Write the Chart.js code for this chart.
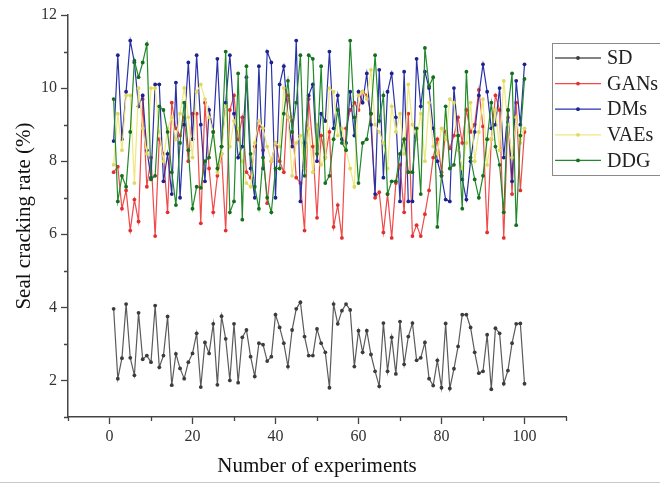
<!DOCTYPE html>
<html>
<head>
<meta charset="utf-8">
<script src="https://cdn.jsdelivr.net/npm/chart.js@4.4.1/dist/chart.umd.min.js"></script>
<style>
  html, body { margin: 0; padding: 0; background: #fff; }
  #wrap { position: relative; width: 660px; height: 484px; }
  #bottomline { position: absolute; left: 0; top: 482px; width: 660px; height: 1px; background: #c8c8c8; }
</style>
</head>
<body>
<div id="wrap">
  <canvas id="c" width="660" height="484"></canvas>
  <div id="bottomline"></div>
</div>
<script>
const experiments = Array.from({length: 100}, (_, i) => i + 1);

const seriesNames = ['SD', 'GANs', 'DMs', 'VAEs', 'DDG'];
const seriesColors = ['#5a5a5a', '#f04a4a', '#2a32a8', '#eee87e', '#218a2a'];
const pointColors = ['#3c3c3c', '#e03030', '#1c2290', '#e0d860', '#146e1c'];

const sdValues = [3.96,2.05,2.61,4.09,2.62,2.14,3.85,2.58,2.68,2.50,4.05,2.36,2.68,3.75,1.87,2.73,2.33,2.05,2.50,2.74,
  3.29,1.82,3.04,2.74,3.55,1.88,3.76,3.14,2.00,3.55,1.94,3.18,3.38,2.65,2.11,3.02,2.98,2.53,2.65,3.80,
  3.45,3.02,2.38,3.38,3.96,4.14,3.20,2.68,2.68,3.41,3.02,2.77,1.80,4.09,3.55,3.91,4.09,3.93,2.38,3.36,
  2.77,3.36,2.71,2.25,1.84,3.57,2.25,3.18,2.18,3.61,2.44,3.20,3.57,2.55,2.62,3.04,2.05,1.86,2.55,1.80,
  3.56,1.78,2.32,2.93,3.80,3.80,3.45,2.77,2.20,2.25,3.25,1.76,3.43,3.29,1.91,2.27,3.02,3.55,3.56,1.91];

const gansValues = [7.7,7.85,6.7,7.2,6.1,6.95,6.35,9.7,7.3,8.1,5.95,8.6,8.2,6.6,9.6,8.9,8.7,9.2,8.0,9.3,
  9.3,6.3,9.6,7.8,6.6,7.6,8.2,6.1,9.4,9.8,8.6,9.2,7.7,7.55,8.4,8.95,8.3,6.85,8.0,8.5,
  8.0,7.7,9.8,9.1,7.55,7.4,6.1,9.7,8.4,6.45,8.7,8.1,8.8,6.2,6.8,5.9,8.9,9.4,9.6,9.4,
  9.9,9.8,9.3,7.0,7.15,6.05,7.1,5.9,7.4,7.9,6.6,9.3,5.95,6.25,5.95,6.55,7.2,8.1,8.6,7.7,
  8.8,8.35,8.7,9.2,8.5,9.4,8.8,9.0,9.95,8.95,6.05,8.6,9.8,9.4,5.9,9.2,7.1,9.6,7.2,8.8];

const dmsValues = [8.55,10.9,8.6,9.9,11.3,10.7,9.5,9.8,8.3,7.55,10.1,10.1,7.45,8.2,7.1,10.15,7.0,9.0,10.7,8.6,
  10.9,9.0,7.45,9.4,8.8,10.8,8.4,9.6,10.9,9.3,8.1,8.4,10.3,7.8,7.0,10.6,7.8,11.0,10.7,7.0,
  10.1,10.6,9.2,8.4,11.3,6.9,8.5,9.8,10.1,8.0,9.3,9.1,11.0,8.9,9.8,8.6,8.5,9.9,8.7,9.9,
  9.6,10.4,9.0,7.1,10.5,7.55,9.9,10.4,9.2,6.9,10.45,6.9,6.9,10.8,9.5,10.45,10.0,8.9,8.0,7.6,
  6.95,6.9,10.0,8.7,7.5,6.95,8.0,8.8,9.8,10.65,9.9,8.9,9.0,10.0,8.1,9.4,7.45,10.2,9.0,10.65];

const vaesValues = [7.9,9.3,8.3,9.8,9.8,7.4,10.0,8.9,8.2,10.0,10.0,8.8,8.0,8.9,9.2,8.6,9.3,10.0,9.2,8.1,
  9.9,10.1,9.7,9.2,8.8,7.7,8.2,9.5,8.4,9.1,8.9,8.0,7.4,7.3,8.5,9.1,8.9,8.4,8.0,8.5,
  8.4,10.0,9.2,7.6,8.5,8.7,7.8,8.9,7.7,9.0,7.9,8.1,10.0,9.9,8.7,8.9,8.3,7.8,7.3,9.8,
  9.9,9.7,10.5,9.0,8.8,8.5,7.8,9.5,8.8,9.3,8.2,10.1,9.0,8.6,9.3,8.0,9.6,8.4,8.2,8.9,
  8.6,9.7,9.6,8.3,7.8,8.5,9.6,8.0,8.8,9.7,7.9,8.6,9.4,8.3,10.2,9.0,8.1,9.2,8.5,8.9];

const ddgValues = [9.7,6.9,7.6,7.3,8.8,10.75,10.3,10.7,11.2,7.5,7.6,9.5,9.4,8.8,7.7,6.8,8.5,9.6,8.3,6.7,
  7.3,7.27,8.0,8.1,8.8,7.8,8.4,11.0,6.6,6.9,10.4,6.4,10.6,8.2,7.3,6.7,8.1,7.0,6.6,7.8,
  7.8,9.3,10.2,8.8,9.6,10.9,7.6,10.9,10.8,8.2,10.6,7.4,7.6,8.6,9.4,8.5,8.3,11.3,9.2,7.4,
  8.5,8.6,9.3,10.9,9.1,9.8,7.1,7.45,7.45,8.2,8.6,7.7,7.7,8.9,7.1,11.1,10.05,10.3,6.2,7.6,
  9.5,7.8,7.9,8.7,6.7,10.45,8.1,7.5,7.0,7.6,8.6,9.6,8.4,7.9,6.6,9.4,10.4,6.25,8.7,10.25];

const xTickValues = [0, 20, 40, 60, 80, 100];
const xMinorTicks = [-10, 10, 30, 50, 70, 90, 110];
const yTickValues = [2, 4, 6, 8, 10, 12];
const yMinorTicks = [1, 3, 5, 7, 9, 11];

const allValues = [sdValues, gansValues, dmsValues, vaesValues, ddgValues];

const SERIF = '"Liberation Serif", "DejaVu Serif", serif';

const datasets = seriesNames.map((name, k) => ({
  label: name,
  data: experiments.map((x, i) => ({x: x, y: allValues[k][i]})),
  borderColor: seriesColors[k],
  backgroundColor: pointColors[k],
  pointBackgroundColor: pointColors[k],
  pointBorderColor: pointColors[k],
  borderWidth: 1.2,
  pointRadius: 1.9,
  pointBorderWidth: 0,
  tension: 0,
  order: seriesNames.length - k
}));

const minorTicksPlugin = {
  id: 'minorTicks',
  afterDraw(chart) {
    const ctx = chart.ctx;
    const xs = chart.scales.x, ys = chart.scales.y;
    const ca = chart.chartArea;
    ctx.save();
    ctx.strokeStyle = '#444';
    ctx.lineWidth = 1.3;
    ctx.beginPath();
    yMinorTicks.forEach(v => {
      const py = Math.round(ys.getPixelForValue(v)) + 0.5;
      ctx.moveTo(ca.left - 4, py);
      ctx.lineTo(ca.left, py);
    });
    xMinorTicks.forEach(v => {
      const px = Math.round(xs.getPixelForValue(v)) + 0.5;
      ctx.moveTo(px, ca.bottom);
      ctx.lineTo(px, ca.bottom + 4);
    });
    ctx.stroke();
    ctx.restore();
  }
};

const boxLegendPlugin = {
  id: 'boxLegend',
  afterDraw(chart) {
    const ctx = chart.ctx;
    const bx = 552, by = 43, bw = 120, bh = 132;
    ctx.save();
    ctx.fillStyle = '#fff';
    ctx.fillRect(bx, by, bw, bh);
    ctx.strokeStyle = '#8a8a8a';
    ctx.lineWidth = 1;
    ctx.strokeRect(bx + 0.5, by + 0.5, bw, bh);
    ctx.font = '20px ' + SERIF;
    ctx.textBaseline = 'middle';
    chart.data.datasets.forEach((ds, i) => {
      const y = by + 15 + i * 25.6;
      ctx.strokeStyle = ds.borderColor;
      ctx.lineWidth = 1.3;
      ctx.beginPath();
      ctx.moveTo(555, y);
      ctx.lineTo(601, y);
      ctx.stroke();
      ctx.fillStyle = ds.pointBackgroundColor;
      ctx.beginPath();
      ctx.arc(578, y, 1.9, 0, Math.PI * 2);
      ctx.fill();
      ctx.fillStyle = '#222';
      ctx.fillText(ds.label, 607, y + 1);
    });
    ctx.restore();
  }
};

new Chart(document.getElementById('c'), {
  type: 'line',
  data: { datasets },
  options: {
    responsive: false,
    animation: false,
    devicePixelRatio: 1,
    layout: { padding: { left: 0, right: 94, top: 15, bottom: 0 } },
    plugins: {
      legend: { display: false },
      tooltip: { enabled: false }
    },
    scales: {
      x: {
        type: 'linear',
        min: -10,
        max: 110,
        afterBuildTicks: (scale) => { scale.ticks = xTickValues.map(v => ({ value: v })); },
        afterFit: (scale) => { scale.height = 67; },
        grid: { drawOnChartArea: false, drawTicks: true, tickLength: 7, tickColor: '#444', tickWidth: 1.3 },
        border: { display: true, color: '#444', width: 1.5 },
        ticks: { color: '#333', font: { family: SERIF, size: 16 }, padding: 3, maxRotation: 0, autoSkip: false },
        title: { display: true, text: 'Number of experiments', color: '#111', font: { family: SERIF, size: 21 }, padding: { top: 0, bottom: 5 } }
      },
      y: {
        type: 'linear',
        min: 1,
        max: 12,
        afterBuildTicks: (scale) => { scale.ticks = yTickValues.map(v => ({ value: v })); },
        afterFit: (scale) => { scale.width = 68; },
        grid: { drawOnChartArea: false, drawTicks: true, tickLength: 7, tickColor: '#444', tickWidth: 1.3 },
        border: { display: true, color: '#444', width: 1.5 },
        ticks: { color: '#333', font: { family: SERIF, size: 16 }, padding: 4, autoSkip: false },
        title: { display: true, text: 'Seal cracking rate (%)', color: '#111', font: { family: SERIF, size: 21 }, padding: { top: 12, bottom: 0 } }
      }
    }
  },
  plugins: [minorTicksPlugin, boxLegendPlugin]
});
</script>
</body>
</html>
